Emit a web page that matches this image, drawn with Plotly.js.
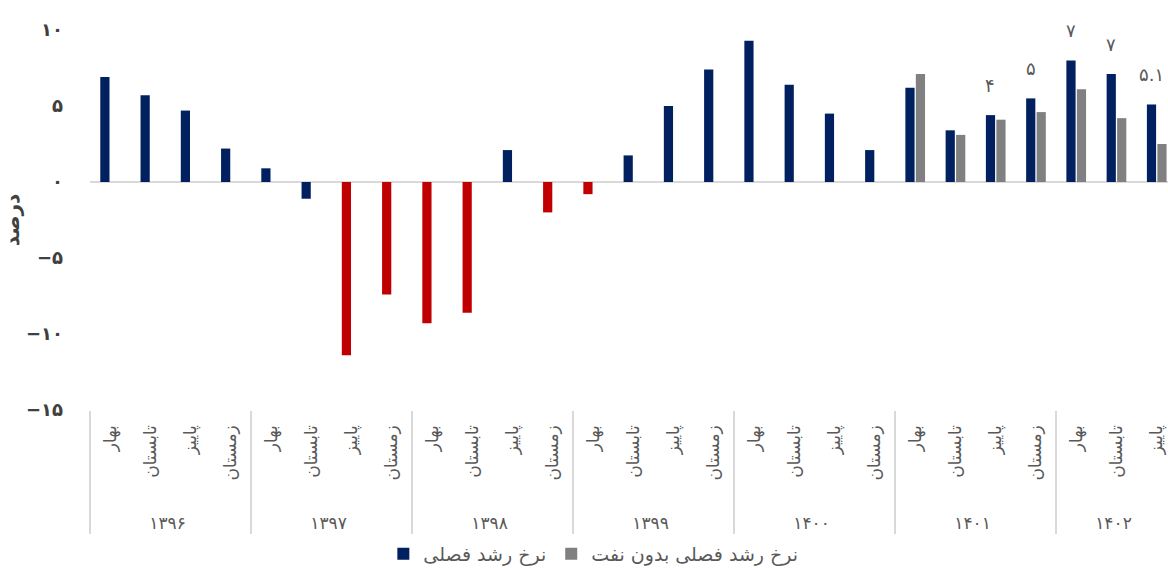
<!DOCTYPE html>
<html>
<head>
<meta charset="utf-8">
<script src="https://cdn.plot.ly/plotly-3.0.1.min.js"></script>
<style>
  html, body { margin: 0; padding: 0; background: #ffffff; }
  #chart { width: 1168px; height: 568px; }
</style>
</head>
<body>
<div id="chart"></div>
<script>
// ---- data ----
const years = ['۱۳۹۶', '۱۳۹۷', '۱۳۹۸', '۱۳۹۹', '۱۴۰۰', '۱۴۰۱', '۱۴۰۲'];
const seasons = ['بهار', 'تابستان', 'پاییز', 'زمستان'];
const quarterCount = 27;

const seasonalGrowth = [6.9, 5.7, 4.7, 2.2,
                        0.9, -1.1, -11.4, -7.4,
                        -9.3, -8.6, 2.1, -2.0,
                        -0.8, 1.75, 5.0, 7.4,
                        9.3, 6.4, 4.5, 2.1,
                        6.2, 3.4, 4.4, 5.5,
                        8.0, 7.1, 5.1];
const nonOilGrowth = [null, null, null, null,
                      null, null, null, null,
                      null, null, null, null,
                      null, null, null, null,
                      null, null, null, null,
                      7.1, 3.1, 4.1, 4.6,
                      6.1, 4.2, 2.5];
// quarters highlighted in red
const highlightedQuarters = [6, 7, 8, 9, 11, 12];
// labels written above the last bars
const labelQuarters = [22, 23, 24, 25, 26];
const labelTexts = ['۴', '۵', '۷', '۷', '۵.۱'];

const yTickVals = [-15, -10, -5, 0, 5, 10];
const yTickText = ['−۱۵', '−۱۰', '−۵', '۰', '۵', '۱۰'];

const seriesNames = ['نرخ رشد فصلی', 'نرخ رشد فصلی بدون نفت'];

// ---- build categories ----
const NB = '\u00A0';
const yearLevel = [], seasonLevel = [];
for (let i = 0; i < quarterCount; i++) {
  yearLevel.push(years[Math.floor(i / 4)]);
  // non-breaking spaces only pad the label box (gap to axis / to year row)
  seasonLevel.push(NB.repeat(3) + seasons[i % 4] + NB.repeat(2));
}

const BLUE = '#002060', RED = '#C00000', GRAY = '#808080';
const blueColors = seasonalGrowth.map((v, i) => highlightedQuarters.includes(i) ? RED : BLUE);

const FONT = 'DejaVu Sans, sans-serif';
const TXT = '#595959';

const traces = [
  {
    type: 'bar',
    name: seriesNames[0],
    x: [yearLevel, seasonLevel],
    y: seasonalGrowth,
    marker: { color: blueColors, line: { width: 0 } },
    hoverinfo: 'y'
  },
  {
    type: 'bar',
    name: seriesNames[1],
    x: [yearLevel, seasonLevel],
    y: nonOilGrowth,
    marker: { color: GRAY, line: { width: 0 } },
    hoverinfo: 'y'
  }
];

const annotations = labelQuarters.map((q, k) => ({
  xref: 'x', yref: 'y',
  x: q, y: seasonalGrowth[q],
  xshift: -5.3, yshift: 30,
  text: labelTexts[k],
  showarrow: false,
  font: { family: FONT, size: 18, color: TXT }
}));

const layout = {
  width: 1168, height: 568,
  paper_bgcolor: '#ffffff', plot_bgcolor: '#ffffff',
  margin: { l: 90, r: 0, t: 30, b: 158 },
  barmode: 'group',
  bargap: 0.48,
  bargroupgap: 0.12,
  showlegend: true,
  legend: {
    orientation: 'h',
    xref: 'container', yref: 'container',
    x: 0.508, xanchor: 'center',
    y: 0.025, yanchor: 'middle',
    font: { family: FONT, size: 19, color: TXT },
    itemwidth: 30,
    tracegroupgap: 0
  },
  xaxis: {
    type: 'multicategory',
    range: [-0.5, 26.28],
    tickangle: -90,
    tickfont: { family: FONT, size: 17, color: TXT },
    showdividers: true,
    dividercolor: '#d9d9d9',
    dividerwidth: 1.5,
    showline: false,
    ticks: '',
    showgrid: false,
    zeroline: false
  },
  yaxis: {
    range: [-15, 10],
    tickvals: yTickVals,
    ticktext: yTickText,
    tickfont: { family: FONT, size: 18, color: '#404040', weight: 'bold' },
    ticklabelstandoff: 26,
    showgrid: false,
    showline: false,
    ticks: '',
    zeroline: true,
    zerolinecolor: '#d9d9d9',
    zerolinewidth: 2,
    title: { text: 'درصد', font: { family: FONT, size: 20, color: '#404040', weight: 'bold' }, standoff: 2 }
  },
  annotations: annotations
};

Plotly.newPlot('chart', traces, layout, { displayModeBar: false, staticPlot: true });
</script>
</body>
</html>
